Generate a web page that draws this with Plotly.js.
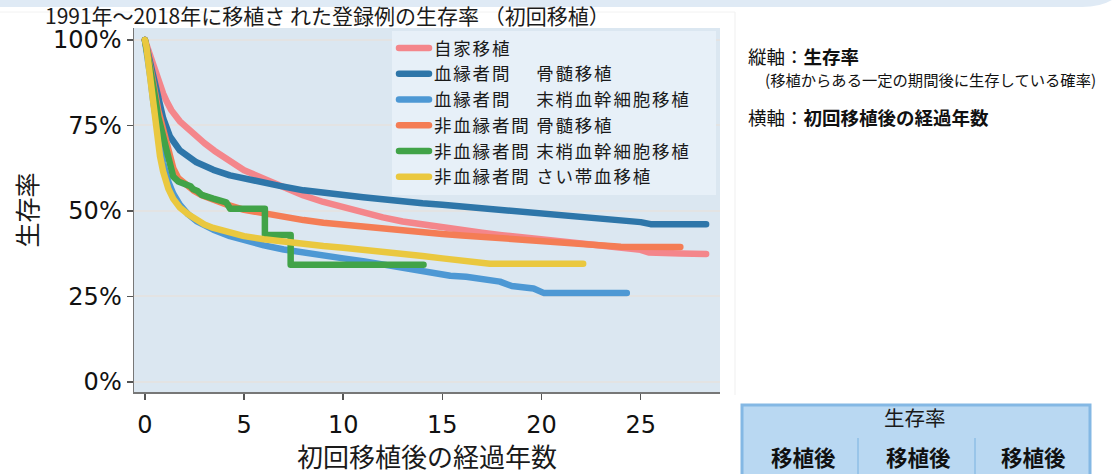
<!DOCTYPE html>
<html>
<head>
<meta charset="utf-8">
<script src="https://cdn.plot.ly/plotly-3.0.1.min.js"></script>
<style>
html,body{margin:0;padding:0;background:#fff;}
#chart{width:1115px;height:474px;}
.legendtext{letter-spacing:1.8px;}
.js-line{stroke-linecap:round;stroke-linejoin:round;}
</style>
</head>
<body>
<div id="chart"></div>
<script>
// ---- data (years after first transplant, survival %) ----
const seriesNames = [
  "自家移植",
  "血縁者間　 骨髄移植",
  "血縁者間　 末梢血幹細胞移植",
  "非血縁者間 骨髄移植",
  "非血縁者間 末梢血幹細胞移植",
  "非血縁者間 さい帯血移植"
];
const seriesColors = ["#f4868b", "#2e76a9", "#4d98d4", "#f47d55", "#41a348", "#eac83f"];

const autoT = [0,0.17,0.34,0.59,0.75,0.92,1.1,1.34,1.76,2.2,2.6,3,3.5,4.29,5,6,7,8,9,10,11,12,13,14,15,16,17,18,19,20,21,22,23,24,25,25.4,26,27,28.3];
const autoS = [100,97,93.7,89.7,87,84.3,82,79.4,76.2,73.8,71.8,69.8,67.6,64.3,61.9,59.4,56.8,54.5,52.6,51,49.5,48.1,46.9,46,45.2,44.4,43.6,42.9,42.3,41.7,41.1,40.5,39.9,39.3,38.6,37.8,37.6,37.5,37.4];

const relBmT = [0,0.17,0.5,0.76,0.92,1.26,1.76,2.6,3.45,4.29,5.13,5.97,6.8,8,9,10,11,12,13,14,15,16,17,18,19,20,21,22,23,24,25,25.5,28.3];
const relBmS = [100,96,86.9,80.5,77.1,71.8,67.7,64.2,62,60.4,59.2,58.3,57.3,56,55.2,54.6,54,53.4,52.6,52.2,51.8,51.3,50.9,50.4,49.7,49.2,48.7,48,47.5,47,46.7,46.1,46.1];

const relPbT = [0,0.17,0.29,0.42,0.59,0.76,0.92,1.18,1.43,1.76,2.18,2.6,3,3.45,4.29,5,6,7,8,9,10,11,12,12.85,14.4,15.4,16.2,17.9,18.5,19.6,20.1,24.3];
const relPbS = [100,94.5,88.5,82,75,68.5,64,58.5,55,51.8,49,47,45.6,44.5,42.6,41.4,39.9,38.7,37.7,36.9,36.1,35.3,34.4,33.2,32,31,30.7,29.3,28,27.3,26,26];

const unrBmT = [0,0.17,0.42,0.67,0.92,1.18,1.43,1.68,2.1,2.44,2.86,3.45,4.1,5,6,7,8,9,10,11,12,13,14,15,16,17,18,19,20,21,22,23,24,27];
const unrBmS = [100,95.5,87.5,79.5,73.5,67.5,62.5,59.6,57.6,56,54.6,53.2,51.9,50.3,49.2,48.2,47.3,46.5,45.9,45.2,44.6,44,43.6,43.2,42.8,42.4,42,41.6,41.1,40.7,40.3,39.9,39.5,39.4];

const unrPbT = [0,0.17,0.42,0.67,0.92,1.18,1.43,1.68,1.9,2.1,2.3,2.44,2.65,2.86,3.1,3.45,3.8,4.1,4.3,6.05,6.05,7.35,7.35,14.05];
const unrPbS = [100,95,86.4,77.6,71.3,65.4,60,58.6,58.2,57.5,57.2,56.3,55.8,54.7,54.4,53.6,53,52.5,50.6,50.6,42.9,42.9,34.2,34.2];

const cbT = [0,0.08,0.17,0.29,0.42,0.59,0.76,0.92,1.18,1.43,1.76,2.18,2.6,3,3.45,4.29,5,6,7,8,9,10,11,12,13,14,15,16,17,17.4,22.1];
const cbS = [100,98,93.5,87,80,72.5,66,61.5,56.5,53.5,51,49,47.3,46,45,43.5,42.6,41.7,40.9,40.3,39.7,39.2,38.7,38.1,37.5,36.8,36.1,35.6,35.1,34.5,34.5];

const yTicks = [0, 25, 50, 75, 100];
const yTickText = ["0%", "25%", "50%", "75%", "100%"];
const xTicks = [0, 5, 10, 15, 20, 25];

const titleText = "1991年〜2018年に移植さ れた登録例の生存率 （初回移植）";
const yTitle = "生存率";
const xTitle = "初回移植後の経過年数";
const noteY1 = "縦軸：<b>生存率</b>";
const noteY2 = "(移植からある一定の期間後に生存している確率)";
const noteX = "横軸：<b>初回移植後の経過年数</b>";
const tableHead = "生存率";
const tableCols = ["移植後", "移植後", "移植後"];

// ---- layout helpers ----
const W = 1115, H = 474;
const M = {l: 134, r: 395, t: 28, b: 82};
const PW = W - M.l - M.r, PH = H - M.t - M.b;
const px = x => (x - M.l) / PW;
const py = y => (H - M.b - y) / PH;

const allT = [autoT, relBmT, relPbT, unrBmT, unrPbT, cbT];
const allS = [autoS, relBmS, relPbS, unrBmS, unrPbS, cbS];
const FONT = "Noto Sans CJK JP, Noto Sans, sans-serif";
const TICKFONT = "DejaVu Sans, Verdana, sans-serif";

const traces = allT.map((t, i) => ({
  x: t, y: allS[i], type: "scatter", mode: "lines",
  name: seriesNames[i],
  line: {color: seriesColors[i], width: 6.5},
  hoverinfo: "skip"
}));

const pathTop = `M ${px(0)},${py(0)} L ${px(1112)},${py(0)} Q ${px(1100)},${py(7)} ${px(1082)},${py(7)} L ${px(0)},${py(7)} Z`;

const shapes = [
  {type: "path", xref: "paper", yref: "paper", path: pathTop, fillcolor: "#dfeaf5", line: {width: 0}, layer: "below"},
  {type: "line", xref: "paper", yref: "paper", x0: px(735), x1: px(735), y0: py(12), y1: py(395), line: {color: "#efefef", width: 1}},
  {type: "line", xref: "paper", yref: "paper", x0: px(0), x1: px(735), y0: py(12), y1: py(12), line: {color: "#f2f2f2", width: 1}},
  // legend background panel
  {type: "rect", xref: "paper", yref: "paper", x0: px(392), x1: px(716), y0: py(195), y1: py(31), fillcolor: "#e7f0f8", line: {width: 0}, layer: "above"},
  // table at bottom right
  {type: "rect", xref: "paper", yref: "paper", x0: px(742), x1: px(1090), y0: py(405), y1: py(482), fillcolor: "#b9d8f2", line: {color: "#84b8e4", width: 3}},
  {type: "line", xref: "paper", yref: "paper", x0: px(858), x1: px(858), y0: py(438), y1: py(482), line: {color: "#8fbfe6", width: 1.5}},
  {type: "line", xref: "paper", yref: "paper", x0: px(975), x1: px(975), y0: py(438), y1: py(482), line: {color: "#8fbfe6", width: 1.5}}
];

const annotations = [
  {text: titleText, xref: "paper", yref: "paper", x: px(43), y: py(15), xanchor: "left", yanchor: "middle", showarrow: false, font: {family: FONT, size: 21, color: "#1a1a1a"}},
  {text: xTitle, xref: "paper", yref: "paper", x: 0.5, y: py(455), xanchor: "center", yanchor: "middle", showarrow: false, font: {family: FONT, size: 26, color: "#1a1a1a"}},
  {text: noteY1, xref: "paper", yref: "paper", x: px(746), y: py(56), xanchor: "left", yanchor: "middle", showarrow: false, font: {family: FONT, size: 18.5, color: "#111"}},
  {text: noteY2, xref: "paper", yref: "paper", x: px(763), y: py(79), xanchor: "left", yanchor: "middle", showarrow: false, font: {family: FONT, size: 15.3, color: "#111"}},
  {text: noteX, xref: "paper", yref: "paper", x: px(746), y: py(117), xanchor: "left", yanchor: "middle", showarrow: false, font: {family: FONT, size: 18.5, color: "#111"}},
  {text: tableHead, xref: "paper", yref: "paper", x: px(915), y: py(417), xanchor: "center", yanchor: "middle", showarrow: false, font: {family: FONT, size: 20.5, color: "#1a1a1a"}}
].concat(tableCols.map((c, i) => ({
  text: "<b>" + c + "</b>", xref: "paper", yref: "paper", x: px([803, 918, 1033][i]), y: py(456), xanchor: "center", yanchor: "middle", showarrow: false, font: {family: FONT, size: 21.5, color: "#111"}
})));

const layout = {
  width: W, height: H, autosize: false,
  margin: M,
  paper_bgcolor: "#ffffff",
  plot_bgcolor: "#dbe7f1",
  showlegend: true,
  legend: {
    x: px(394), xanchor: "left", y: py(30), yanchor: "top",
    bgcolor: "rgba(0,0,0,0)", borderwidth: 0,
    font: {family: FONT, size: 17.5, color: "#1a1a1a"},
    itemwidth: 30, tracegroupgap: 0
  },
  xaxis: {
    range: [-0.55, 29], tickmode: "array", tickvals: xTicks, ticks: "outside", ticklen: 6, tickwidth: 1.5, tickcolor: "#555",
    ticklabelstandoff: 5,
    showline: true, linecolor: "#777", linewidth: 1.5, showgrid: false, zeroline: false,
    tickfont: {family: TICKFONT, size: 24, color: "#111"},
    title: {text: ""}
  },
  yaxis: {
    range: [-3, 103.5], tickmode: "array", tickvals: yTicks, ticktext: yTickText, ticks: "outside", ticklen: 6, tickwidth: 1.5, tickcolor: "#555",
    showline: true, linecolor: "#777", linewidth: 1.5, showgrid: true, gridcolor: "#e3e3e3", gridwidth: 2, zeroline: false,
    tickfont: {family: TICKFONT, size: 24, color: "#111"},
    title: {text: yTitle, font: {family: FONT, size: 25, color: "#1a1a1a"}, standoff: 8}
  },
  shapes: shapes,
  annotations: annotations
};

Plotly.newPlot("chart", traces, layout, {displayModeBar: false, staticPlot: true});
</script>
</body>
</html>
